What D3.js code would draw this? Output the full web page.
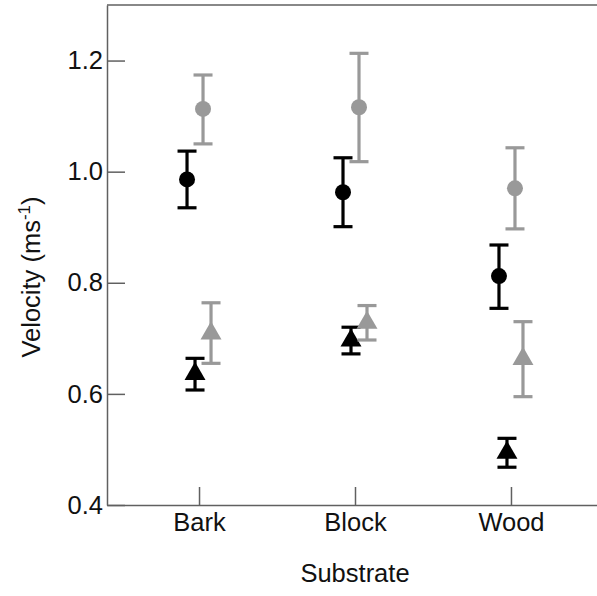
<!DOCTYPE html>
<html>
<head>
<meta charset="utf-8">
<script src="https://cdn.jsdelivr.net/npm/d3@7"></script>
<style>
  body { margin: 0; background: #fff; }
  text { font-family: "Liberation Sans", Arial, sans-serif; }
</style>
</head>
<body>
<div id="chart"></div>
<script>
// data
var substrates = ['Bark', 'Block', 'Wood'];
var yTicks = [0.4, 0.6, 0.8, 1.0, 1.2];

var blackCircleMean = [0.986, 0.963, 0.812];
var blackCircleLow = [0.935, 0.901, 0.754];
var blackCircleHigh = [1.037, 1.025, 0.868];

var blackTriMean = [0.636, 0.696, 0.494];
var blackTriLow = [0.607, 0.672, 0.468];
var blackTriHigh = [0.664, 0.720, 0.520];

var grayCircleMean = [1.113, 1.116, 0.970];
var grayCircleLow = [1.050, 1.018, 0.897];
var grayCircleHigh = [1.174, 1.213, 1.043];

var grayTriMean = [0.709, 0.728, 0.663];
var grayTriLow = [0.655, 0.697, 0.595];
var grayTriHigh = [0.764, 0.759, 0.730];

const width = 597;
const height = 596;

var series = [
    {mean: blackCircleMean, low: blackCircleLow, high: blackCircleHigh, shape: 'circle', color: '#000', offset: -12},
    {mean: blackTriMean, low: blackTriLow, high: blackTriHigh, shape: 'triangle', color: '#000', offset: -4},
    {mean: grayCircleMean, low: grayCircleLow, high: grayCircleHigh, shape: 'circle', color: '#999', offset: 4},
    {mean: grayTriMean, low: grayTriLow, high: grayTriHigh, shape: 'triangle', color: '#999', offset: 12}
];

const svg = d3.select('#chart')
    .append('svg')
    .attr('width', width)
    .attr('height', height);

var xScale = d3.scalePoint().domain(substrates).range([107, 603]).padding(0.59);
var yScale = d3.scaleLinear().domain([0.4, 1.3]).range([505, 5]);

var axisColor = '#606060';

// top border line
svg.append('line')
    .attr('x1', 107).attr('x2', width)
    .attr('y1', yScale(1.3)).attr('y2', yScale(1.3))
    .attr('stroke', axisColor).attr('stroke-width', 1.5);

var yAxis = svg.append('g')
    .attr('transform', 'translate(107,0)')
    .call(d3.axisLeft(yScale).tickValues(yTicks).tickFormat(d3.format('.1f'))
        .tickSizeInner(-18).tickSizeOuter(0).tickPadding(4));

var xAxis = svg.append('g')
    .attr('transform', 'translate(0,505)')
    .call(d3.axisBottom(xScale).tickSizeInner(-18).tickSizeOuter(0).tickPadding(6));

[xAxis, yAxis].forEach(function(g){
    g.select('.domain').attr('stroke', axisColor).attr('stroke-width', 1.5);
    g.selectAll('.tick line').attr('stroke', axisColor).attr('stroke-width', 1.5);
    g.selectAll('.tick text').attr('fill', '#111').style('font-size', '25.5px')
        .style('font-family', '"Liberation Sans", Arial, sans-serif');
});
xAxis.selectAll('.tick text').attr('dy', '0.8em');

// error bars and markers
var capHalf = 9.5;
series.forEach(function(s){
    var g = svg.append('g');
    substrates.forEach(function(sub, i){
        var cx = xScale(sub) + s.offset;
        g.append('line')
            .attr('x1', cx).attr('x2', cx)
            .attr('y1', yScale(s.low[i])).attr('y2', yScale(s.high[i]))
            .attr('stroke', s.color).attr('stroke-width', 3.2);
        [s.low[i], s.high[i]].forEach(function(v){
            g.append('line')
                .attr('x1', cx - capHalf).attr('x2', cx + capHalf)
                .attr('y1', yScale(v)).attr('y2', yScale(v))
                .attr('stroke', s.color).attr('stroke-width', 3.2);
        });
        var sym = s.shape == 'circle' ? d3.symbol().type(d3.symbolCircle).size(201)
                                       : d3.symbol().type(d3.symbolTriangle).size(190);
        g.append('path')
            .attr('d', sym())
            .attr('transform', 'translate(' + cx + ',' + yScale(s.mean[i]) + ')')
            .attr('fill', s.color);
    });
});

// axis titles
svg.append('text')
    .attr('x', 355)
    .attr('y', 582)
    .attr('text-anchor', 'middle')
    .style('font-size', '25.5px')
    .attr('fill', '#111')
    .text('Substrate');

var yLabel = svg.append('text')
    .attr('transform', 'translate(40,277) rotate(-90)')
    .attr('text-anchor', 'middle')
    .style('font-size', '25.5px')
    .attr('fill', '#111');
yLabel.append('tspan').text('Velocity (ms');
yLabel.append('tspan').attr('dy', -10).style('font-size', '17px').text('-1');
yLabel.append('tspan').attr('dy', 10).text(')');
</script>
</body>
</html>
